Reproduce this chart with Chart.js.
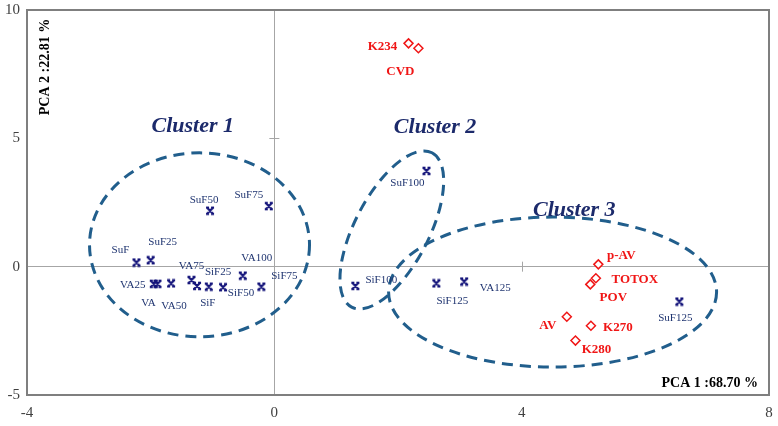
<!DOCTYPE html>
<html lang="en">
  <head>
    <meta charset="UTF-8" />
    <title>PCA biplot</title>
    <script src="https://cdn.jsdelivr.net/npm/chart.js"></script>
    <style>
      body {
        margin: 0;
        background: #ffffff;
      }
      #wrap {
        width: 778px;
        height: 426px;
      }
    </style>
  </head>

  <body>
    <div id="wrap"><canvas id="pcaChart" width="778" height="426"></canvas></div>

    <script>
      // samples (blue markers)
      const sampleNames = ["SuF", "SuF25", "SuF50", "SuF75", "SuF100", "SuF125",
        "VA", "VA25", "VA50", "VA75", "VA100", "VA125",
        "SiF", "SiF25", "SiF50", "SiF75", "SiF100", "SiF125"];
      const samplePC1 = [-2.23, -2.0, -1.04, -0.09, 2.46, 6.55,
        -1.89, -1.95, -1.67, -1.34, -0.51, 3.07,
        -1.06, -1.25, -0.83, -0.21, 1.31, 2.62];
      const samplePC2 = [0.16, 0.25, 2.18, 2.36, 3.73, -1.36,
        -0.67, -0.67, -0.65, -0.52, -0.35, -0.58,
        -0.78, -0.75, -0.8, -0.78, -0.75, -0.65];

      // variables (red diamonds)
      const variableNames = ["K234", "CVD", "p-AV", "TOTOX", "POV", "AV", "K270", "K280"];
      const variablePC1 = [2.17, 2.33, 5.24, 5.2, 5.11, 4.73, 5.12, 4.87];
      const variablePC2 = [8.7, 8.51, 0.09, -0.45, -0.69, -1.95, -2.3, -2.88];

      const xTicks = [-4, 0, 4, 8];
      const yTicks = [-5, 0, 5, 10];

      // label offsets in px (style only)
      const sampleLabelOffsets = [[-16, -12], [12, -18], [-6, -11], [-20, -11], [-19, 12], [-4, 17],
        [-9, 19], [-21, 1], [3, 23], [0, -14], [14, -18], [31, 7],
        [-1, 16], [21, -14], [18, 6], [23, -11], [26, -6], [16, 18]];
      const variableLabelOffsets = [[-26, 3], [-18, 23], [23, -9], [39, 1], [23, 13], [-19, 9], [27, 2], [21, 9]];

      // cluster outlines: centre in data units, radii in px, rotation in degrees
      const clusters = [
        { name: "Cluster 1", cx: -1.21, cy: 0.85, rx: 110, ry: 92, rot: 0, lx: -1.32, ly: 5.47 },
        { name: "Cluster 2", cx: 1.9, cy: 1.43, rx: 87, ry: 37, rot: -62.5, lx: 2.6, ly: 5.44 },
        { name: "Cluster 3", cx: 4.5, cy: -0.99, rx: 164, ry: 75, rot: 0, lx: 4.85, ly: 2.21 },
      ];

      const serif = "'Liberation Serif', 'Times New Roman', serif";

      // Excel-like "x" marker
      function makeMarker() {
        const c = document.createElement("canvas");
        c.width = 10;
        c.height = 10;
        const g = c.getContext("2d");
        g.strokeStyle = "#14147a";
        g.lineWidth = 2.2;
        g.beginPath();
        g.moveTo(2, 2);
        g.lineTo(8, 8);
        g.moveTo(8, 2);
        g.lineTo(2, 8);
        g.moveTo(1, 1.8);
        g.lineTo(4, 1.8);
        g.moveTo(6, 1.8);
        g.lineTo(9, 1.8);
        g.moveTo(1, 8.2);
        g.lineTo(4, 8.2);
        g.moveTo(6, 8.2);
        g.lineTo(9, 8.2);
        g.stroke();
        return c;
      }

      const sampleData = sampleNames.map((n, i) => ({ x: samplePC1[i], y: samplePC2[i] }));
      const variableData = variableNames.map((n, i) => ({ x: variablePC1[i], y: variablePC2[i] }));

      const decorPlugin = {
        id: "decor",
        beforeDatasetsDraw(chart) {
          const ctx = chart.ctx;
          const xs = chart.scales.x;
          const ys = chart.scales.y;
          const x0 = xs.getPixelForValue(0);
          const y0 = ys.getPixelForValue(0);
          ctx.save();
          // small tick marks on the crossing axes
          ctx.strokeStyle = "#a6a6a6";
          ctx.lineWidth = 1;
          ctx.beginPath();
          xTicks.forEach((v) => {
            if (v === 0) return;
            const px = Math.round(xs.getPixelForValue(v)) + 0.5;
            ctx.moveTo(px, y0 - 5);
            ctx.lineTo(px, y0 + 5);
          });
          yTicks.forEach((v) => {
            if (v === 0) return;
            const py = Math.round(ys.getPixelForValue(v)) + 0.5;
            ctx.moveTo(x0 - 5, py);
            ctx.lineTo(x0 + 5, py);
          });
          ctx.stroke();

          // dashed cluster ellipses
          ctx.strokeStyle = "#215e8c";
          ctx.lineWidth = 3;
          ctx.setLineDash([11, 7]);
          clusters.forEach((c) => {
            ctx.beginPath();
            ctx.ellipse(xs.getPixelForValue(c.cx), ys.getPixelForValue(c.cy), c.rx, c.ry,
              (c.rot * Math.PI) / 180, 0, Math.PI * 2);
            ctx.stroke();
          });
          ctx.setLineDash([]);

          // cluster titles
          ctx.fillStyle = "#1c2a6b";
          ctx.font = "italic bold 22px " + serif;
          ctx.textAlign = "center";
          ctx.textBaseline = "middle";
          clusters.forEach((c) => {
            ctx.fillText(c.name, xs.getPixelForValue(c.lx), ys.getPixelForValue(c.ly));
          });
          ctx.restore();
        },
        afterDatasetsDraw(chart) {
          const ctx = chart.ctx;
          ctx.save();
          ctx.textAlign = "center";
          ctx.textBaseline = "middle";

          ctx.font = "11px " + serif;
          ctx.fillStyle = "#1f3470";
          chart.getDatasetMeta(0).data.forEach((pt, i) => {
            const o = sampleLabelOffsets[i];
            ctx.fillText(sampleNames[i], pt.x + o[0], pt.y + o[1]);
          });

          ctx.font = "bold 13px " + serif;
          ctx.fillStyle = "#f01616";
          chart.getDatasetMeta(1).data.forEach((pt, i) => {
            const o = variableLabelOffsets[i];
            ctx.fillText(variableNames[i], pt.x + o[0], pt.y + o[1]);
          });

          // plot frame
          const a = chart.chartArea;
          ctx.strokeStyle = "#7f7f7f";
          ctx.lineWidth = 2;
          ctx.strokeRect(a.left, a.top, a.right - a.left, a.bottom - a.top);

          // axis titles
          ctx.fillStyle = "#000000";
          ctx.font = "bold 14px " + serif;
          ctx.textAlign = "right";
          ctx.fillText("PCA 1 :68.70 %", a.right - 11, a.bottom - 12);
          ctx.translate(a.left + 18, a.top + 57);
          ctx.rotate(-Math.PI / 2);
          ctx.textAlign = "center";
          ctx.fillText("PCA 2 :22.81 %", 0, 0);
          ctx.restore();
        },
      };

      const zeroOnly = (c) => (c.tick && c.tick.value === 0 ? "#a6a6a6" : "rgba(0,0,0,0)");

      new Chart(document.getElementById("pcaChart").getContext("2d"), {
        type: "scatter",
        data: {
          datasets: [
            {
              label: "Samples",
              data: sampleData,
              pointStyle: makeMarker(),
              pointRadius: 5,
            },
            {
              label: "Variables",
              data: variableData,
              pointStyle: "rectRot",
              pointRadius: 4.5,
              borderColor: "#f01616",
              backgroundColor: "#ffffff",
              borderWidth: 1.5,
            },
          ],
        },
        options: {
          responsive: false,
          animation: false,
          layout: { padding: { top: 10, right: 9, left: 0, bottom: 0 } },
          plugins: {
            legend: { display: false },
            tooltip: { enabled: false },
          },
          scales: {
            x: {
              type: "linear",
              min: -4,
              max: 8,
              afterBuildTicks: (s) => {
                s.ticks = xTicks.map((v) => ({ value: v }));
              },
              afterFit: (s) => {
                s.height = 31;
                s.paddingLeft = 0;
                s.paddingRight = 0;
              },
              ticks: {
                padding: 9,
                color: "#404040",
                font: { family: serif, size: 15 },
                maxRotation: 0,
              },
              grid: { color: zeroOnly, drawTicks: false, lineWidth: 1 },
              border: { display: false },
            },
            y: {
              type: "linear",
              min: -5,
              max: 10,
              afterBuildTicks: (s) => {
                s.ticks = yTicks.map((v) => ({ value: v }));
              },
              afterFit: (s) => {
                s.width = 27;
                s.paddingTop = 0;
                s.paddingBottom = 0;
              },
              ticks: {
                padding: 7,
                color: "#404040",
                font: { family: serif, size: 15 },
              },
              grid: { color: zeroOnly, drawTicks: false, lineWidth: 1 },
              border: { display: false },
            },
          },
        },
        plugins: [decorPlugin],
      });
    </script>
  </body>
</html>
